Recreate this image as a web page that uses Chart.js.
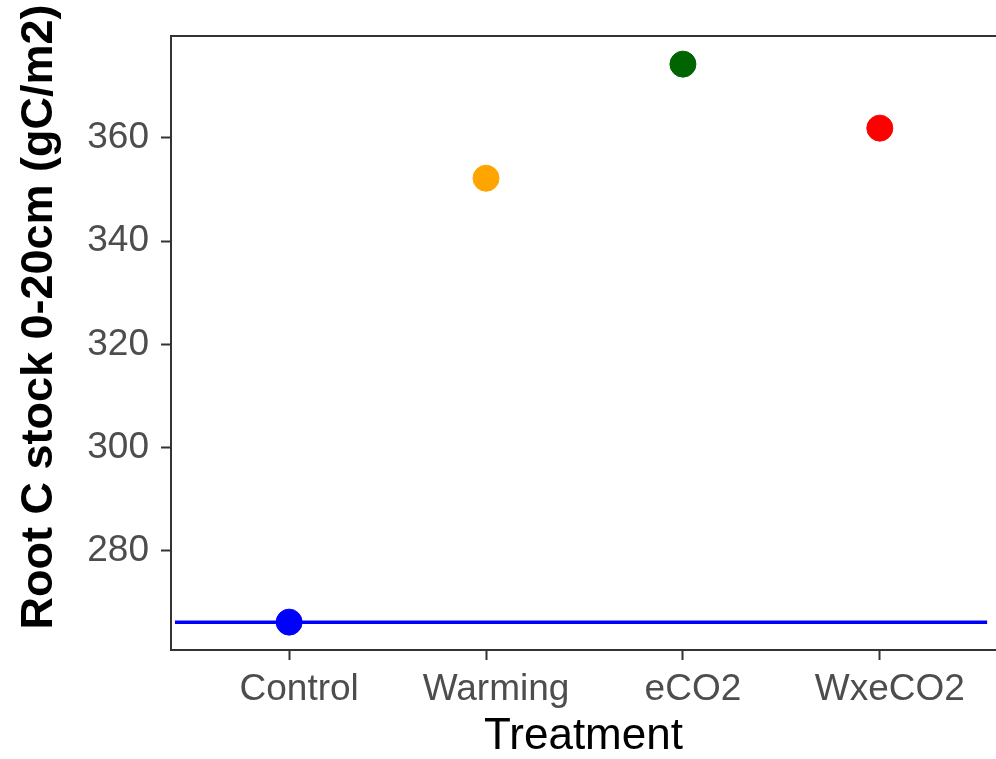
<!DOCTYPE html>
<html>
<head>
<meta charset="utf-8">
<script src="https://cdn.jsdelivr.net/npm/chart.js@4"></script>
<style>
  html, body { margin: 0; padding: 0; background: #fff; }
  #wrap { width: 996px; height: 759px; position: relative; }
</style>
</head>
<body>
<div id="wrap"><canvas id="chart" width="996" height="759"></canvas></div>
<script>
// --- Data ---
const categories = ['Control', 'Warming', 'eCO2', 'WxeCO2'];
const rootC = [266.2, 352.2, 374.3, 361.9];
const pointColors = ['#0000FF', '#FFA500', '#006400', '#FF0000'];
const yTicks = [280, 300, 320, 340, 360];
const controlLine = 266.2;  // reference line at Control level

const FONT = "'Liberation Sans', Arial, sans-serif";
const AXIS = '#333333';

// top border + rotated y title
const framePlugin = {
    id: 'frame',
    afterDraw(chart) {
        const { ctx, chartArea } = chart;
        ctx.save();
        ctx.strokeStyle = AXIS;
        ctx.lineWidth = 2;
        ctx.beginPath();
        ctx.moveTo(chartArea.left - 1, chartArea.top);
        ctx.lineTo(chart.width, chartArea.top);
        ctx.stroke();

        ctx.translate(40, 317);
        ctx.rotate(-Math.PI / 2);
        ctx.fillStyle = '#000';
        ctx.font = 'bold 45px ' + FONT;
        ctx.textAlign = 'center';
        ctx.textBaseline = 'middle';
        ctx.fillText('Root C stock 0-20cm (gC/m2)', 0, 0);
        ctx.restore();
    }
};

const ctx = document.getElementById('chart').getContext('2d');
new Chart(ctx, {
    type: 'scatter',
    data: {
        datasets: [
            {
                type: 'line',
                data: [{ x: -0.58, y: controlLine }, { x: 3.545, y: controlLine }],
                borderColor: '#0000FF',
                borderWidth: 3.5,
                pointRadius: 0,
                fill: false
            },
            {
                data: rootC.map((v, i) => ({ x: i, y: v })),
                backgroundColor: pointColors,
                borderColor: pointColors,
                pointRadius: 13,
                pointHoverRadius: 13
            }
        ]
    },
    options: {
        responsive: false,
        animation: false,
        layout: { autoPadding: false, padding: { top: 36, right: 0, left: 0, bottom: 0 } },
        plugins: {
            legend: { display: false },
            tooltip: { enabled: false }
        },
        scales: {
            x: {
                type: 'linear',
                min: -0.6,
                max: 3.59,
                afterBuildTicks: axis => { axis.ticks = categories.map((c, i) => ({ value: i })); },
                afterFit: axis => {
                    axis.height = 109;
                    axis.paddingLeft = 0;
                    axis.paddingRight = 0;
                },
                ticks: {
                    callback: v => categories[v],
                    color: '#4d4d4d',
                    font: { family: FONT, size: 37 },
                    padding: 8,
                    labelOffset: 10,
                    maxRotation: 0,
                    autoSkip: false
                },
                grid: {
                    drawOnChartArea: false,
                    drawTicks: true,
                    tickLength: 10,
                    tickWidth: 2,
                    tickColor: AXIS
                },
                border: { display: true, color: AXIS, width: 2 },
                title: {
                    display: true,
                    text: 'Treatment',
                    color: '#000',
                    font: { family: FONT, size: 44, lineHeight: 1.0 },
                    padding: { top: 4, bottom: 0 }
                }
            },
            y: {
                min: 260.8,
                max: 379.75,
                afterBuildTicks: axis => { axis.ticks = yTicks.map(v => ({ value: v })); },
                afterFit: axis => {
                    axis.width = 171;
                    axis.paddingTop = 0;
                    axis.paddingBottom = 0;
                },
                ticks: {
                    color: '#4d4d4d',
                    font: { family: FONT, size: 37 },
                    padding: 12
                },
                grid: {
                    drawOnChartArea: false,
                    drawTicks: true,
                    tickLength: 10,
                    tickWidth: 2,
                    tickColor: AXIS
                },
                border: { display: true, color: AXIS, width: 2 }
            }
        }
    },
    plugins: [framePlugin]
});
</script>
</body>
</html>
